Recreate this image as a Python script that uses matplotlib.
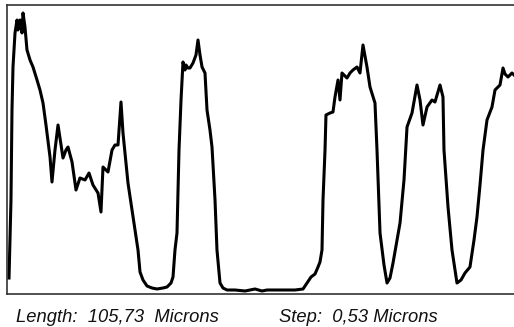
import matplotlib
matplotlib.use("Agg")
from matplotlib import pyplot as plt

# line profile, position in microns, signal in arbitrary units
position = [0.42, 0.83, 1.04, 1.25, 1.67, 2.09, 2.29, 2.71, 3.13, 3.34, 3.75, 4.17, 4.80, 5.42,
            6.26, 6.88, 7.51, 8.13, 8.97, 9.38, 10.01, 10.64, 11.26, 11.68, 12.30, 12.72, 13.56,
            14.39, 15.22, 16.27, 17.10, 17.93, 18.98, 19.60, 20.02, 21.06, 21.90, 22.52, 23.15,
            23.77, 24.19, 25.23, 26.28, 27.32, 27.74, 28.36, 29.20, 30.24, 31.28, 32.53, 33.37,
            34.20, 34.62, 35.03, 35.45, 35.87, 36.29, 36.70, 37.12, 37.33, 37.75, 38.16, 38.79,
            39.41, 39.83, 40.25, 40.67, 41.29, 41.71, 42.33, 42.75, 43.38, 43.79, 44.42, 45.04,
            45.88, 47.55, 49.63, 51.72, 53.18, 54.22, 55.89, 57.97, 60.06, 61.73, 62.56, 63.40,
            64.23, 64.86, 65.27, 65.69, 65.90, 66.32, 66.52, 67.36, 67.98, 68.40, 69.03, 69.44,
            69.86, 70.90, 71.53, 72.15, 72.99, 73.61, 74.24, 75.07, 75.70, 76.74, 77.16, 77.79,
            78.62, 79.25, 79.87, 80.50, 81.33, 81.96, 82.79, 83.42, 84.46, 85.50, 86.13, 86.75,
            87.59, 88.63, 89.25, 90.30, 90.92, 91.13, 91.97, 92.80, 93.84, 94.68, 95.51, 96.55,
            97.39, 98.01, 98.64, 99.27, 100.10, 101.14, 101.77, 102.81, 103.44, 103.85, 104.48,
            105.31, 105.73]
signal = [16, 94, 184, 227, 261, 274, 264, 274, 261, 281, 267, 244, 234, 227,
          214, 204, 191, 169, 137, 112, 144, 169, 149, 136, 144, 147, 132,
          104, 116, 114, 121, 109, 101, 82, 127, 122, 144, 149, 149,
          192, 161, 111, 77, 44, 22, 14, 8, 6, 5, 6, 7,
          11, 17, 44, 61, 144, 194, 232, 224, 229, 226, 226, 231,
          239, 254, 239, 227, 221, 184, 164, 147, 94, 44, 11, 6,
          4, 4, 3, 5, 3, 4, 4, 4, 4, 5, 11, 17,
          20, 27, 32, 44, 94, 144, 179, 181, 182, 197, 214, 194,
          221, 216, 221, 224, 227, 221, 249, 227, 207, 191, 144, 61,
          29, 11, 16, 31, 54, 71, 114, 167, 181, 209, 194, 169,
          187, 194, 192, 209, 197, 144, 87, 44, 11, 14, 21, 27,
          54, 77, 109, 144, 174, 187, 204, 209, 226, 220, 217,
          221, 219]

length_um = 105.73
step_um = 0.53

fig = plt.figure(figsize=(5.14, 3.27), dpi=100)
ax = fig.add_axes([7 / 514, 33 / 327, 507 / 514, 289 / 327])
ax.plot(position, signal, color="black", linewidth=2.2, solid_joinstyle="round")
ax.set_xlim(0, length_um)
ax.set_ylim(0, 289)
ax.set_xticks([])
ax.set_yticks([])
for side in ["left", "top", "bottom"]:
    ax.spines[side].set_color("#333333")
    ax.spines[side].set_linewidth(1.2)
ax.spines["right"].set_visible(False)

fig.text(16 / 514, 1 - 322 / 327, f"Length:  {length_um:.2f}  Microns".replace(".", ","),
         fontsize=13.2, fontstyle="italic", family="Liberation Sans", va="baseline", ha="left",
         color="#111111")
fig.text(279 / 514, 1 - 322 / 327, f"Step:  {step_um:.2f} Microns".replace(".", ","),
         fontsize=13.2, fontstyle="italic", family="Liberation Sans", va="baseline", ha="left",
         color="#111111")

fig.savefig("out.png", dpi=100)
